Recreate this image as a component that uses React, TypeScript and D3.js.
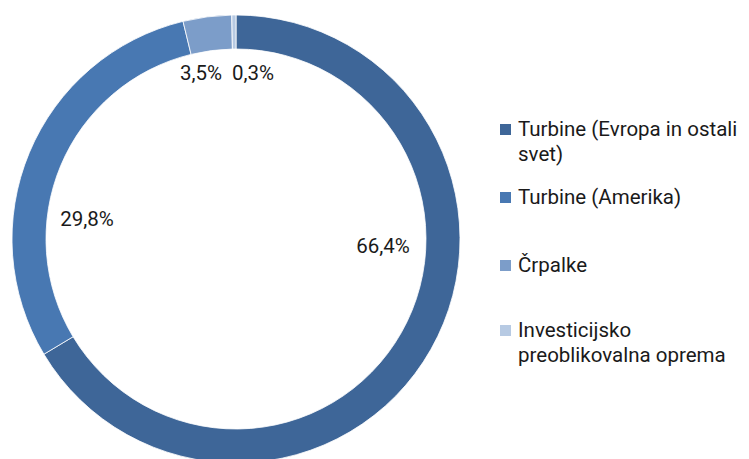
import React from 'react';
import * as d3 from 'd3';

const categories = ['Turbine (Evropa in ostali svet)', 'Turbine (Amerika)', 'Črpalke', 'Investicijsko preoblikovalna oprema'];
const shares = [66.4, 29.8, 3.5, 0.3];
const shareLabels = ['66,4%', '29,8%', '3,5%', '0,3%'];
const legendLines = [['Turbine (Evropa in ostali', 'svet)'], ['Turbine (Amerika)'], ['Črpalke'], ['Investicijsko', 'preoblikovalna oprema']];
const colors = ['#3E6698', '#4878B2', '#7C9DC9', '#B7CAE3'];

const App: React.FC = () => {
  const width = 749;
  const height = 459;
  const cx = 236;
  const cy = 239;
  const outerR = 224;
  const innerR = 190;
  const font = 'Roboto, "Open Sans", sans-serif';

  const pie = d3.pie<number>().sort(null).value(d => d);
  const arcs = pie(shares);
  const arc = d3.arc<d3.PieArcDatum<number>>().innerRadius(innerR).outerRadius(outerR);

  // label positions (Excel places them inside the hole, near the ring)
  const labelOffsets: [number, number][] = [[147, 14], [-149, -13], [-35, -159], [17, -159]];

  const legendY = [136, 204, 272, 337];

  return (
    <svg width={width} height={height} style={{ position: 'absolute', left: 0, top: 0, background: '#fff' }}>
      <g transform={`translate(${cx}, ${cy})`}>
        {arcs.map((a, i) => (
          <path key={i} d={arc(a) || ''} fill={colors[i]} stroke="#fff" strokeWidth={0.8} />
        ))}
        {arcs.map((a, i) => (
          <text key={'l' + i} x={labelOffsets[i][0]} y={labelOffsets[i][1]} fontFamily={font} fontSize={20.5} fill="#1a1a1a" textAnchor="middle">
            {shareLabels[i]}
          </text>
        ))}
      </g>
      {categories.map((c, i) => (
        <g key={c} transform={`translate(500, ${legendY[i]})`}>
          <rect x={0} y={-12} width={11} height={11} fill={colors[i]} />
          <text x={18} y={0} fontFamily={font} fontSize={20.5} fill="#1a1a1a">
            {legendLines[i].map((t, j) => (
              <tspan key={j} x={18} dy={j === 0 ? 0 : 24.5}>{t}</tspan>
            ))}
          </text>
        </g>
      ))}
    </svg>
  );
};

export default App;
